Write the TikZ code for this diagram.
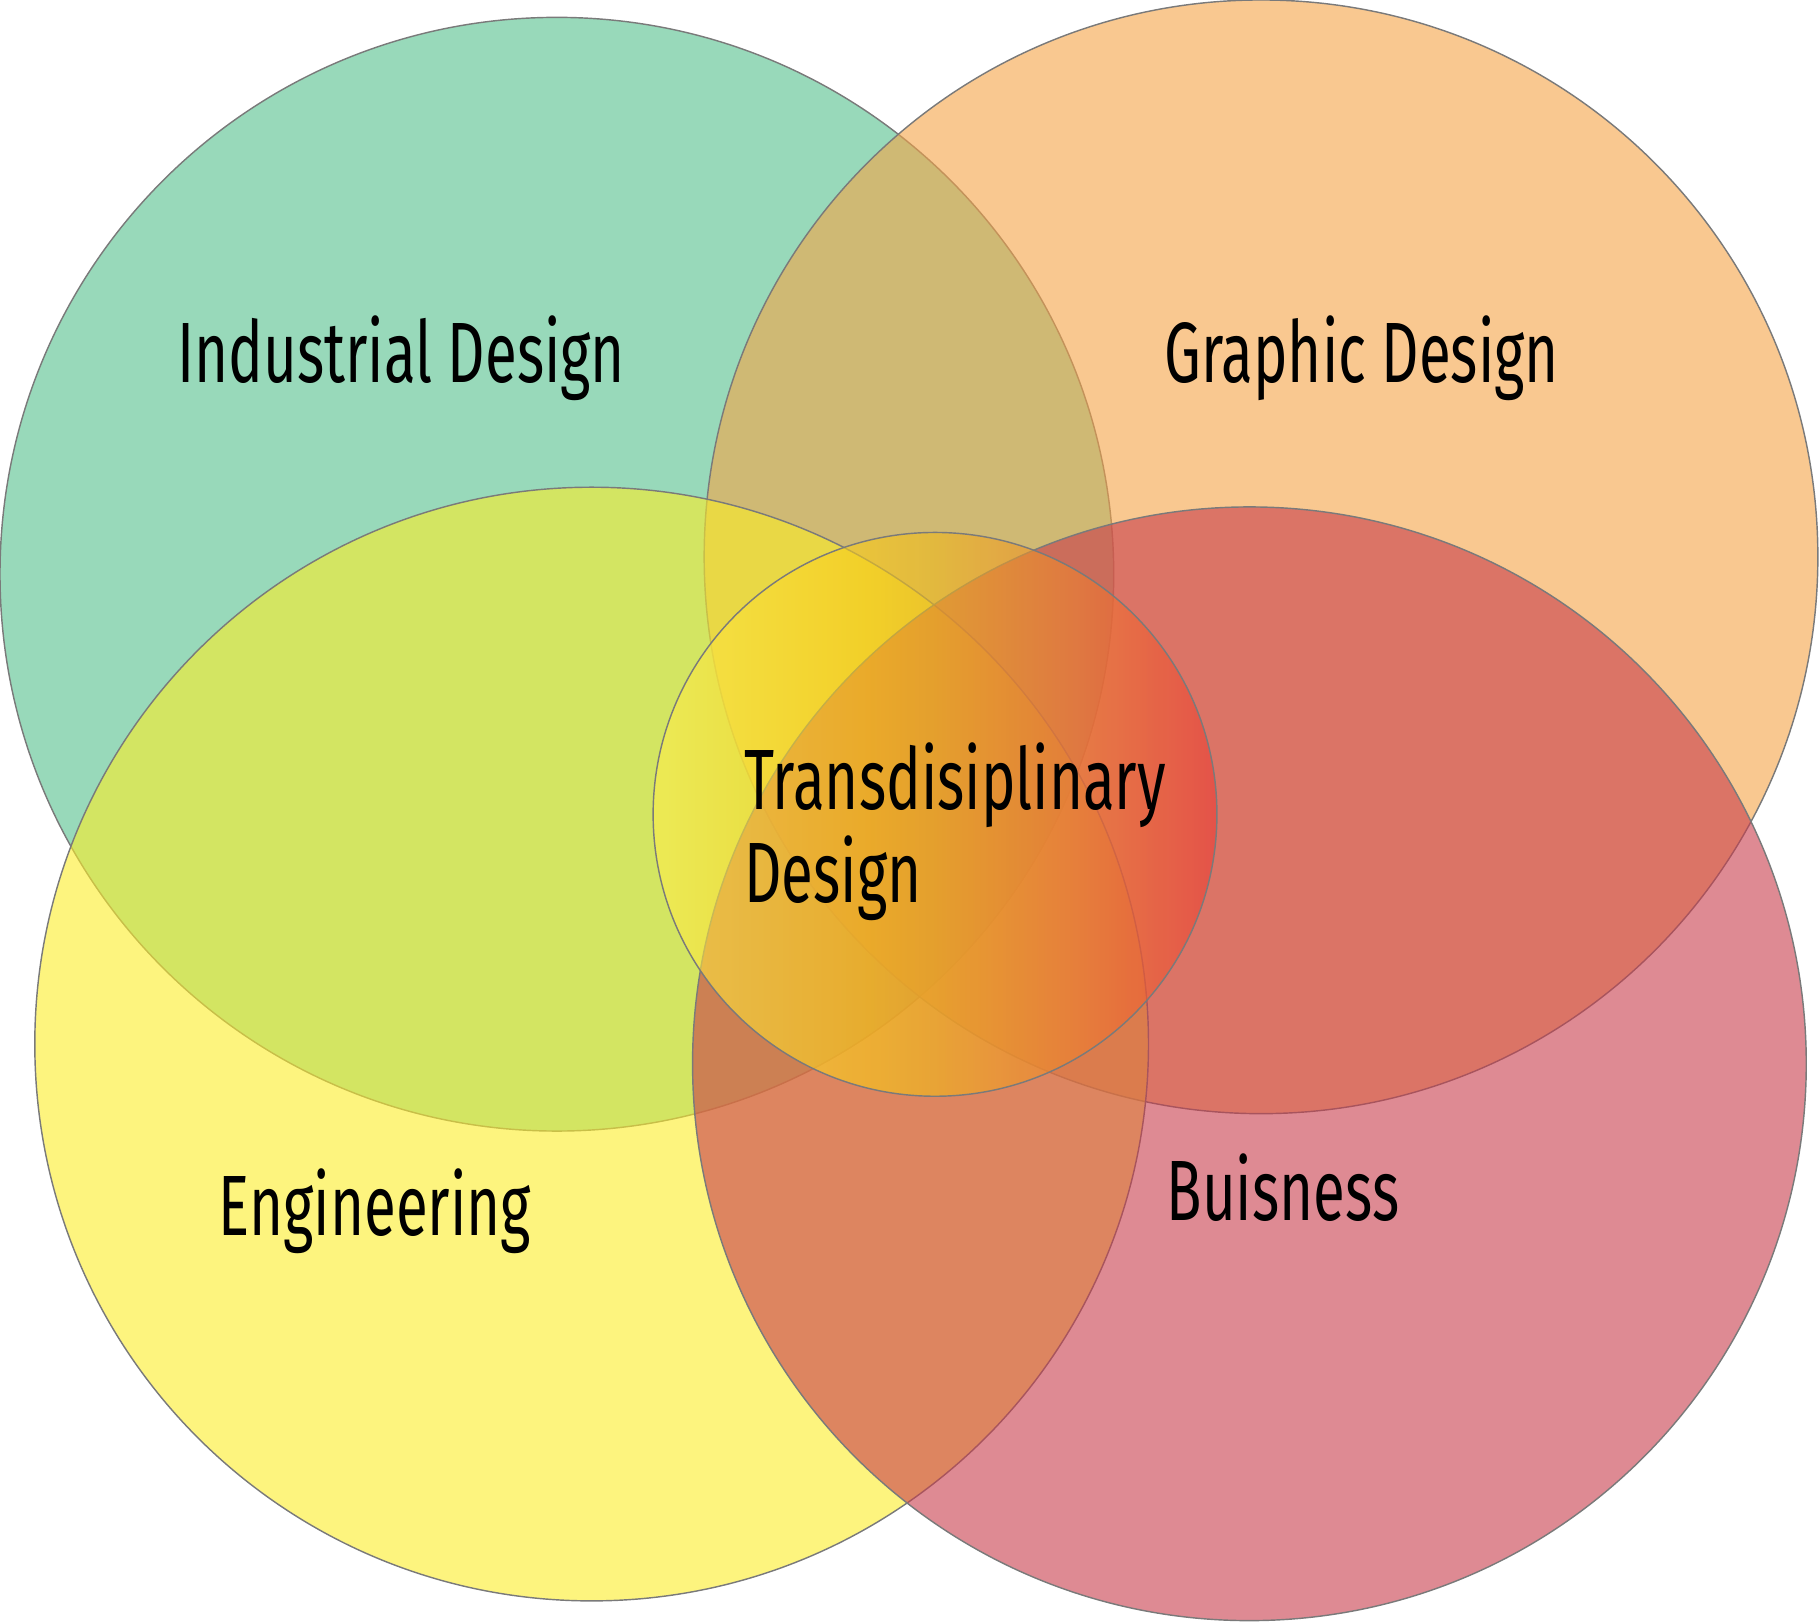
\documentclass[tikz,border=0pt]{standalone}
\usepackage{fontspec}
\newfontfamily\handfont{Fira Sans}[FakeStretch=0.68]
\usepackage{xcolor}
\usepackage{tikz}
\usetikzlibrary{positioning,shapes.geometric}
\definecolor{indus}{HTML}{53C08C}
\definecolor{graph}{HTML}{F5A346}
\definecolor{engin}{HTML}{FCED28}
\definecolor{busin}{HTML}{C83C4B}
\definecolor{tlo}{HTML}{FDED4D}
\definecolor{tgold}{HTML}{F9CB17}
\definecolor{tmid}{HTML}{EFB91C}
\definecolor{tora}{HTML}{EE8230}
\definecolor{thi}{HTML}{EB3E37}
\definecolor{rim}{HTML}{7A7A7A}
\pgfdeclarehorizontalshading{transgrad}{100bp}{color(0bp)=(tlo); color(25bp)=(tlo);
  color(44bp)=(tgold); color(50bp)=(tmid); color(62.5bp)=(tora);
  color(75bp)=(thi); color(100bp)=(thi)}
\tikzset{
  venn/.style={circle, draw=rim, line width=0.35pt, inner sep=0pt,
               minimum size=9.6cm, fill opacity=0.6, draw opacity=1},
  core/.style={venn, minimum size=4.86cm, shading=transgrad},
  lbl/.style={anchor=base west, inner sep=0pt, align=left,
              font=\handfont\fontsize{21}{22.8}\selectfont},
}
\begin{document}
\begin{tikzpicture}
\useasboundingbox (0,0) rectangle (15.68,13.98);
\node[venn, fill=indus] (ind) at (4.80,9.03) {};
\node[venn, fill=graph] (gra) at (10.87,9.18) {};
\node[venn, fill=engin] (eng) at (5.10,4.98) {};
\node[venn, fill=busin] (bus) at (10.77,4.81) {};
\node[core] (tra) at (8.06,6.96) {};

\node[lbl] (indl) at (1.52,10.68) {Industrial Design};
\node[lbl] (gral) at (10.03,10.68) {Graphic Design};
\node[lbl] (engl) at (1.88,3.33) {Engineering};
\node[lbl] (busl) at (10.05,3.46) {Buisness};
\node[lbl] (tral) at (6.41,6.20) {Transdisiplinary\\Design};
\end{tikzpicture}
\end{document}
